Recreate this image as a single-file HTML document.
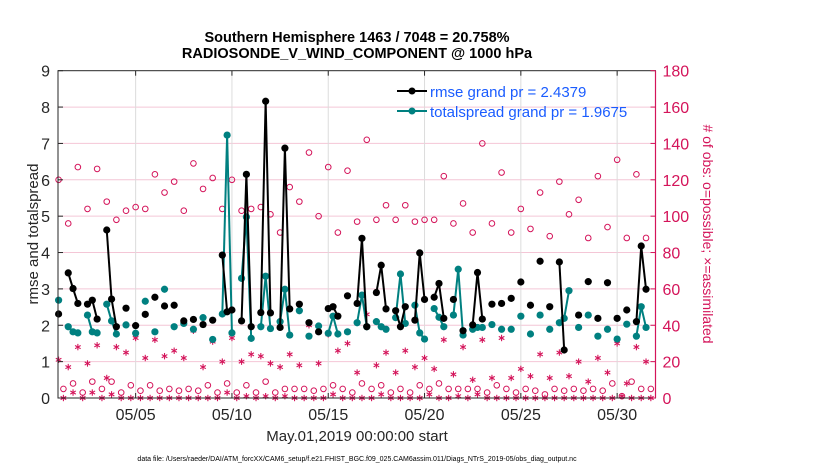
<!DOCTYPE html>
<html><head><meta charset="utf-8"><style>
body{margin:0;background:#fff;}
svg{display:block;font-family:"Liberation Sans",Arial,sans-serif;}
</style></head><body>
<svg id="chart" width="830" height="470" viewBox="0 0 830 470">
<rect width="830" height="470" fill="#fff"/>
<text x="357" y="42" text-anchor="middle" font-size="14.5" font-weight="bold" fill="#000">Southern Hemisphere 1463 / 7048 = 20.758%</text>
<text x="357" y="58" text-anchor="middle" font-size="14.5" font-weight="bold" fill="#000">RADIOSONDE_V_WIND_COMPONENT @ 1000 hPa</text>
<g id="grid"></g>
<g id="obs"></g>
<g id="series"></g>
<g id="axes"></g>
<text transform="translate(38,234) rotate(-90)" text-anchor="middle" font-size="15" fill="#262626">rmse and totalspread</text>
<text transform="translate(703,234) rotate(90)" text-anchor="middle" font-size="14" fill="#d4145a"># of obs: o=possible; ×=assimilated</text>
<text x="357" y="441" text-anchor="middle" font-size="15" fill="#262626">May.01,2019 00:00:00 start</text>
<text x="357" y="461" text-anchor="middle" font-size="7" fill="#000">data file: /Users/raeder/DAI/ATM_forcXX/CAM6_setup/f.e21.FHIST_BGC.f09_025.CAM6assim.011/Diags_NTrS_2019-05/obs_diag_output.nc</text>
<g>
<line x1="397" y1="91" x2="427" y2="91" stroke="#000" stroke-width="2"/>
<circle cx="412" cy="91" r="3.5" fill="#000"/>
<text x="430" y="97" font-size="15" fill="#1a5cff">rmse grand pr = 2.4379</text>
<line x1="397" y1="111" x2="427" y2="111" stroke="#008080" stroke-width="2"/>
<circle cx="412" cy="111" r="3.5" fill="#008080"/>
<text x="430" y="117" font-size="15" fill="#1a5cff">totalspread grand pr = 1.9675</text>
</g>
</svg>
<script>
const rmseT=[0,0.5,0.75,1,1.5,1.75,2,2.5,2.75,3,3.5,4,4.5,5,5.5,6,6.5,7,7.5,8,8.5,8.75,9,9.5,9.75,10,10.5,10.75,11,11.5,11.75,12,12.5,13,13.5,14,14.25,14.5,15,15.5,15.75,16,16.5,16.75,17,17.5,17.75,18,18.5,18.75,19,19.5,19.75,20,20.5,21,21.5,21.75,22,22.5,23,23.5,24,24.5,25,25.5,26,26.25,27,27.5,28,28.5,29,29.5,30,30.25,30.5];
const rmseV=[2.31,3.44,3.01,2.60,2.58,2.69,2.17,4.62,2.72,1.96,2.47,1.99,2.30,2.77,2.53,2.55,2.12,2.16,2.02,2.14,3.93,2.37,2.42,2.12,6.15,1.96,2.35,8.16,2.34,1.94,6.87,2.45,2.58,2.07,1.82,2.46,2.51,2.25,2.81,2.60,4.39,1.96,2.90,3.65,2.45,2.40,1.96,2.51,2.14,3.99,2.71,2.77,3.15,2.19,2.71,1.85,2.01,3.45,2.17,2.58,2.60,2.74,3.19,2.55,3.76,2.51,3.74,1.32,2.28,3.20,2.19,3.17,2.19,2.42,2.10,4.18,2.99];
const sprT=[0,0.5,0.75,1,1.5,1.75,2,2.5,2.75,3,3.5,4,4.5,5,5.5,6,6.5,7,7.5,8,8.5,8.75,9,9.5,9.75,10,10.5,10.75,11,11.5,11.75,12,12.5,13,13.5,14,14.25,14.5,15,15.5,15.75,16,16.5,16.75,17,17.5,17.75,18,18.5,18.75,19,19.5,19.75,20,20.5,20.75,21,21.5,21.75,22,22.5,23,23.5,24,24.5,25,25.5,26,26.25,26.5,27,27.5,28,28.5,29,29.5,30,30.25,30.5];
const sprV=[2.69,1.96,1.82,1.79,2.28,1.82,1.79,2.58,2.12,1.76,2.01,1.78,2.66,1.82,2.99,1.96,2.05,1.89,2.21,1.61,2.31,7.23,1.79,3.29,4.98,1.64,1.96,3.35,1.91,2.10,2.99,1.73,2.40,1.70,1.98,1.78,2.25,1.76,1.82,2.07,2.83,1.96,2.10,1.96,1.89,2.21,3.41,2.05,2.55,1.79,1.62,2.46,2.22,1.96,2.28,3.54,1.73,1.89,1.94,1.94,2.02,1.89,1.89,2.25,1.76,2.28,1.89,2.07,2.19,2.95,1.94,2.28,1.70,1.89,1.62,2.03,1.70,2.51,1.94];
const possHigh=[120,96,127,104,126,108,98,103,105,104,123,113,119,103,129,115,121,104,120,103,104,105,101,91,116,108,135,100,127,91,125,97,142,98,106,98,106,97,98,98,122,96,107,91,140,96,124,91,104,93,113,89,119,101,109,88,122,94,131,88,123,88];
const possLow=[5,8,3,9,5,9,3,7,4,7,4,5,4,5,4,7,3,8,3,7,3,9,3,5,5,5,4,5,7,5,3,8,5,7,3,5,3,7,5,8,5,5,5,5,3,7,5,3,5,4,2,5,4,5,4,5,4,8,1,9,5,5];
const assimHigh=[21,17,28,19,29,11,28,25,33,22,32,23,26,22,37,17,31,20,33,20,24,23,19,17,24,18,40,19,35,26,30,14,46,18,25,14,26,17,22,16,32,13,28,10,32,11,33,11,16,12,24,11,25,12,20,9,22,14,30,8,28,20];
const assimLow=[0,3,0,3,0,2,0,0,0,0,0,0,0,0,0,0,0,3,0,1,0,1,0,1,0,0,0,0,2,0,0,0,0,2,0,0,0,0,2,0,0,1,0,2,0,0,0,0,0,0,0,0,0,0,0,0,0,0,1,0,0,0];
const yTicks=[0,1,2,3,4,5,6,7,8,9];
const y2Ticks=[0,20,40,60,80,100,120,140,160,180];
const xTickDays=[4,9,14,19,24,29];
const xTickLabels=["05/05","05/10","05/15","05/20","05/25","05/30"];

const L=58,R=655.5,T=70.7,B=398;
const x=d=>58.6+d*19.26;
const y=v=>B-v*(B-T)/9;
const y2=v=>B-v*(B-T)/180;
const NS="http://www.w3.org/2000/svg";
function mk(tag,parent,attrs){const e=document.createElementNS(NS,tag);for(const k in attrs)e.setAttribute(k,attrs[k]);parent.appendChild(e);return e;}
const grid=document.getElementById('grid'),axes=document.getElementById('axes'),obs=document.getElementById('obs'),ser=document.getElementById('series');
const MAG="#d4145a";
y2Ticks.forEach(v=>{if(v===0||v===180)return;const l=mk('line',grid,{x1:L,x2:R,y1:y2(v),y2:y2(v),stroke:'#f4c6d6','stroke-width':1});

});
xTickDays.forEach(d=>{const l=mk('line',grid,{x1:x(d),x2:x(d),y1:T,y2:B,stroke:'#dcdcdc','stroke-width':1});

});
function circ(t,v){const c=mk('circle',obs,{cx:x(t),cy:y2(v),r:2.8,fill:'none',stroke:MAG,'stroke-width':1});

}
function star(t,v){const cx=x(t),cy=y2(v),r=3.2;const g=mk('g',obs,{stroke:MAG,'stroke-width':1.1});


mk('line',g,{x1:cx,x2:cx,y1:cy-r,y2:cy+r});mk('line',g,{x1:cx-r*0.87,x2:cx+r*0.87,y1:cy-r/2,y2:cy+r/2});mk('line',g,{x1:cx-r*0.87,x2:cx+r*0.87,y1:cy+r/2,y2:cy-r/2});}
possHigh.forEach((v,i)=>circ(i*0.5,v));
possLow.forEach((v,i)=>circ(0.25+i*0.5,v));
assimHigh.forEach((v,i)=>star(i*0.5,v));
assimLow.forEach((v,i)=>star(0.25+i*0.5,v));
function series(T_,V,color,name){
 for(let i=1;i<T_.length;i++){if(Math.abs(T_[i]-T_[i-1]-0.25)<0.01){const l=mk('line',ser,{x1:x(T_[i-1]),y1:y(V[i-1]),x2:x(T_[i]),y2:y(V[i]),stroke:color,'stroke-width':2});
 
 }}
 T_.forEach((t,i)=>{const c=mk('circle',ser,{cx:x(t),cy:y(V[i]),r:3.6,fill:color});
 
 });
}
series(sprT,sprV,'#008080','totalspread');
series(rmseT,rmseV,'#000','rmse');
const f=mk('rect',axes,{x:L,y:T,width:R-L,height:B-T,fill:'none',stroke:'#262626','stroke-width':1});


const ra=mk('line',axes,{x1:R,x2:R,y1:T,y2:B,stroke:MAG,'stroke-width':1.2});


yTicks.forEach(v=>{mk('line',axes,{x1:L,x2:L+5,y1:y(v),y2:y(v),stroke:'#262626'});
const t=mk('text',axes,{x:L-8,y:y(v)+6,'text-anchor':'end','font-size':16,fill:'#262626'});t.textContent=v;

});
y2Ticks.forEach(v=>{mk('line',axes,{x1:R-5,x2:R,y1:y2(v),y2:y2(v),stroke:MAG});
const t=mk('text',axes,{x:R+7,y:y2(v)+6,'font-size':16,fill:MAG});t.textContent=v;

});
xTickDays.forEach((d,i)=>{mk('line',axes,{x1:x(d),x2:x(d),y1:B,y2:B-5,stroke:'#262626'});mk('line',axes,{x1:x(d),x2:x(d),y1:T,y2:T+5,stroke:'#262626'});
const t=mk('text',axes,{x:x(d),y:B+22,'text-anchor':'middle','font-size':16,fill:'#262626'});t.textContent=xTickLabels[i];

});
</script>
</body></html>
